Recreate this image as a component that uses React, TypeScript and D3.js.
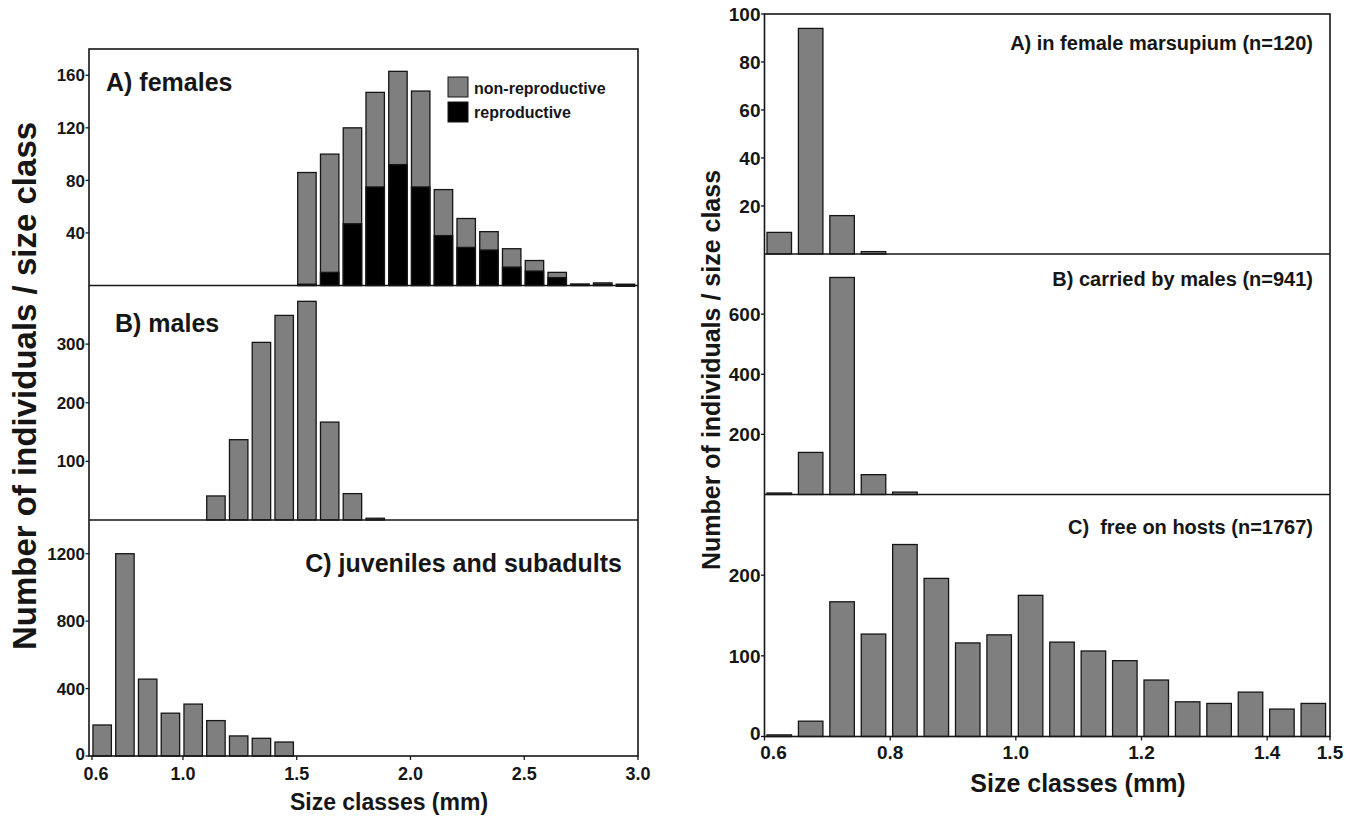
import React from "react";
import * as d3 from "d3";

// ---------- DATA ----------
// Left figure (bin width 0.1 mm, class start values)
const femaleClasses = [1.5, 1.6, 1.7, 1.8, 1.9, 2.0, 2.1, 2.2, 2.3, 2.4, 2.5, 2.6, 2.7, 2.8, 2.9];
const femaleTotal = [86, 100, 120, 147, 163, 148, 73, 51, 41, 28, 19, 10, 1, 2, 1];
const femaleReproductive = [1, 10, 47, 75, 92, 75, 38, 29, 27, 14, 11, 6, 1, 1, 0];

const maleClasses = [1.1, 1.2, 1.3, 1.4, 1.5, 1.6, 1.7, 1.8];
const maleCounts = [41, 137, 303, 349, 373, 167, 45, 3];

const juvClasses = [0.6, 0.7, 0.8, 0.9, 1.0, 1.1, 1.2, 1.3, 1.4];
const juvCounts = [184, 1200, 456, 254, 308, 210, 119, 105, 83];

// Right figure (bin width 0.05 mm)
const marsupiumClasses = [0.6, 0.65, 0.7, 0.75];
const marsupiumCounts = [9, 94, 16, 1];

const carriedClasses = [0.6, 0.65, 0.7, 0.75, 0.8];
const carriedCounts = [5, 140, 722, 66, 8];

const freeClasses = [0.6, 0.65, 0.7, 0.75, 0.8, 0.85, 0.9, 0.95, 1.0, 1.05, 1.1, 1.15, 1.2, 1.25, 1.3, 1.35, 1.4, 1.45];
const freeCounts = [2, 19, 167, 127, 238, 196, 116, 126, 175, 117, 106, 94, 70, 43, 41, 55, 34, 41];

// Ticks
const leftXTicks = [0.6, 1.0, 1.5, 2.0, 2.5, 3.0];
const rightXTicks = [0.6, 0.8, 1.0, 1.2, 1.4, 1.5];
const femaleYTicks = [40, 80, 120, 160];
const maleYTicks = [100, 200, 300];
const juvYTicks = [0, 400, 800, 1200];
const marsupiumYTicks = [20, 40, 60, 80, 100];
const carriedYTicks = [200, 400, 600];
const freeYTicks = [0, 100, 200];

// ---------- STYLE ----------
const FONT = "'Liberation Sans', Arial, Helvetica, sans-serif";
const INK = "#161616";
const GRAY = "#7f7f7f";

const fmt1 = (v: number) => v.toFixed(1);

export default function App() {
  // Left figure geometry
  const Lx0 = 89, Lx1 = 638;
  const xL = d3.scaleLinear().domain([0.587, 3.0]).range([Lx0, Lx1]);
  const yFem = d3.scaleLinear().domain([0, 180]).range([285.5, 49]);
  const yMale = d3.scaleLinear().domain([0, 400]).range([520, 285.5]);
  const yJuv = d3.scaleLinear().domain([0, 1400]).range([756, 520]);
  const binL = 0.1;

  // Right figure geometry
  const Rx0 = 764.5, Rx1 = 1330;
  const xR = d3.scaleLinear().domain([0.6, 1.5]).range([Rx0, Rx1]);
  const yMar = d3.scaleLinear().domain([0, 100]).range([254, 14]);
  const yCar = d3.scaleLinear().domain([0, 800]).range([494.5, 254]);
  const yFree = d3.scaleLinear().domain([0, 300]).range([736.5, 494.5]);
  const binR = 0.05;

  const barL = (c: number) => ({ x: xL(c) + 1, w: (xL(c + binL) - xL(c)) * 0.81 });
  const barR = (c: number) => ({ x: xR(c) + 2.5, w: (xR(c + binR) - xR(c)) * 0.78 });

  const bars = (
    classes: number[],
    values: number[],
    y: d3.ScaleLinear<number, number>,
    geom: (c: number) => { x: number; w: number },
    fill: string,
    key: string
  ) =>
    classes.map((c, i) => {
      const g = geom(c);
      const y0 = y(0);
      const y1 = y(values[i]);
      return (
        <rect
          key={key + i}
          x={g.x}
          y={y1}
          width={g.w}
          height={Math.max(0.8, y0 - y1)}
          fill={fill}
          stroke={INK}
          strokeWidth={1.3}
        />
      );
    });

  const yAxis = (
    ticks: number[],
    y: d3.ScaleLinear<number, number>,
    xAxis: number,
    fontSize: number,
    key: string,
    zeroLift = 0
  ) =>
    ticks.map((t, i) => (
      <g key={key + i}>
        <line x1={xAxis - 3.5} x2={xAxis} y1={y(t)} y2={y(t)} stroke={INK} strokeWidth={1.3} />
        <text
          x={xAxis - 4}
          y={y(t) + fontSize * 0.36 - (t === 0 ? zeroLift : 0)}
          textAnchor="end"
          fontSize={fontSize}
          fontWeight="bold"
          fill={INK}
        >
          {t}
        </text>
      </g>
    ));

  const xAxisTicks = (
    ticks: number[],
    x: d3.ScaleLinear<number, number>,
    yBase: number,
    labelY: number,
    fontSize: number,
    firstShift: number,
    key: string
  ) =>
    ticks.map((t, i) => (
      <g key={key + i}>
        <line x1={x(t)} x2={x(t)} y1={yBase} y2={yBase + 4} stroke={INK} strokeWidth={1.3} />
        <text
          x={x(t) + (i === 0 ? firstShift : 0)}
          y={labelY}
          textAnchor="middle"
          fontSize={fontSize}
          fontWeight="bold"
          fill={INK}
        >
          {fmt1(t)}
        </text>
      </g>
    ));

  return (
    <svg
      width={1350}
      height={819}
      style={{ position: "absolute", left: 0, top: 0, background: "#fff" }}
      fontFamily={FONT}
    >
      <rect x={0} y={0} width={1350} height={819} fill="#fff" />

      {/* ================= LEFT FIGURE ================= */}
      {bars(femaleClasses, femaleTotal, yFem, barL, GRAY, "ft")}
      {bars(femaleClasses, femaleReproductive, yFem, barL, "#000", "fr")}
      {bars(maleClasses, maleCounts, yMale, barL, GRAY, "m")}
      {bars(juvClasses, juvCounts, yJuv, barL, GRAY, "j")}

      <rect x={Lx0} y={49} width={Lx1 - Lx0} height={756 - 49} fill="none" stroke={INK} strokeWidth={1.6} />
      <line x1={Lx0} x2={Lx1} y1={285.5} y2={285.5} stroke={INK} strokeWidth={1.6} />
      <line x1={Lx0} x2={Lx1} y1={520} y2={520} stroke={INK} strokeWidth={1.6} />

      {yAxis(femaleYTicks, yFem, Lx0, 17, "fy")}
      {yAxis(maleYTicks, yMale, Lx0, 17, "my")}
      {yAxis(juvYTicks, yJuv, Lx0, 17, "jy", 2)}

      {xAxisTicks(leftXTicks, xL, 756, 779.5, 18, 4, "lx")}

      <text x={106} y={91} fontSize={25} fontWeight="bold" fill={INK}>A) females</text>
      <text x={115} y={332} fontSize={25} fontWeight="bold" fill={INK}>B) males</text>
      <text x={622} y={572} fontSize={25} fontWeight="bold" fill={INK} textAnchor="end">
        C) juveniles and subadults
      </text>

      <rect x={448} y={77} width={20} height={20} fill={GRAY} stroke={INK} strokeWidth={1} />
      <rect x={448} y={102} width={20} height={20} fill="#000" stroke={INK} strokeWidth={1} />
      <text x={474} y={93.5} fontSize={16} fontWeight="bold" fill={INK}>non-reproductive</text>
      <text x={474} y={117.5} fontSize={16} fontWeight="bold" fill={INK}>reproductive</text>

      <text x={389} y={810} fontSize={23} fontWeight="bold" fill={INK} textAnchor="middle">
        Size classes (mm)
      </text>
      <text
        transform="translate(36,386) rotate(-90)"
        fontSize={33}
        fontWeight="bold"
        fill={INK}
        textAnchor="middle"
      >
        Number of individuals / size class
      </text>

      {/* ================= RIGHT FIGURE ================= */}
      {bars(marsupiumClasses, marsupiumCounts, yMar, barR, GRAY, "ma")}
      {bars(carriedClasses, carriedCounts, yCar, barR, GRAY, "ca")}
      {bars(freeClasses, freeCounts, yFree, barR, GRAY, "fr2")}

      <rect x={Rx0} y={14} width={Rx1 - Rx0} height={736.5 - 14} fill="none" stroke={INK} strokeWidth={1.6} />
      <line x1={Rx0} x2={Rx1} y1={254} y2={254} stroke={INK} strokeWidth={1.6} />
      <line x1={Rx0} x2={Rx1} y1={494.5} y2={494.5} stroke={INK} strokeWidth={1.6} />

      {yAxis(marsupiumYTicks, yMar, Rx0, 19, "may")}
      {yAxis(carriedYTicks, yCar, Rx0, 19, "cay")}
      {yAxis(freeYTicks, yFree, Rx0, 19, "fry", 3)}

      {xAxisTicks(rightXTicks, xR, 736.5, 759, 19, 9, "rx")}

      <text x={1313} y={50} fontSize={20} fontWeight="bold" fill={INK} textAnchor="end">
        A) in female marsupium (n=120)
      </text>
      <text x={1313} y={286} fontSize={20} fontWeight="bold" fill={INK} textAnchor="end">
        B) carried by males (n=941)
      </text>
      <text x={1313} y={534} fontSize={20} fontWeight="bold" fill={INK} textAnchor="end" style={{ whiteSpace: "pre" }}>
        {"C)  free on hosts (n=1767)"}
      </text>

      <text x={1078} y={792} fontSize={25} fontWeight="bold" fill={INK} textAnchor="middle">
        Size classes (mm)
      </text>
      <text
        transform="translate(720,370) rotate(-90)"
        fontSize={25}
        fontWeight="bold"
        fill={INK}
        textAnchor="middle"
      >
        Number of individuals / size class
      </text>
    </svg>
  );
}
